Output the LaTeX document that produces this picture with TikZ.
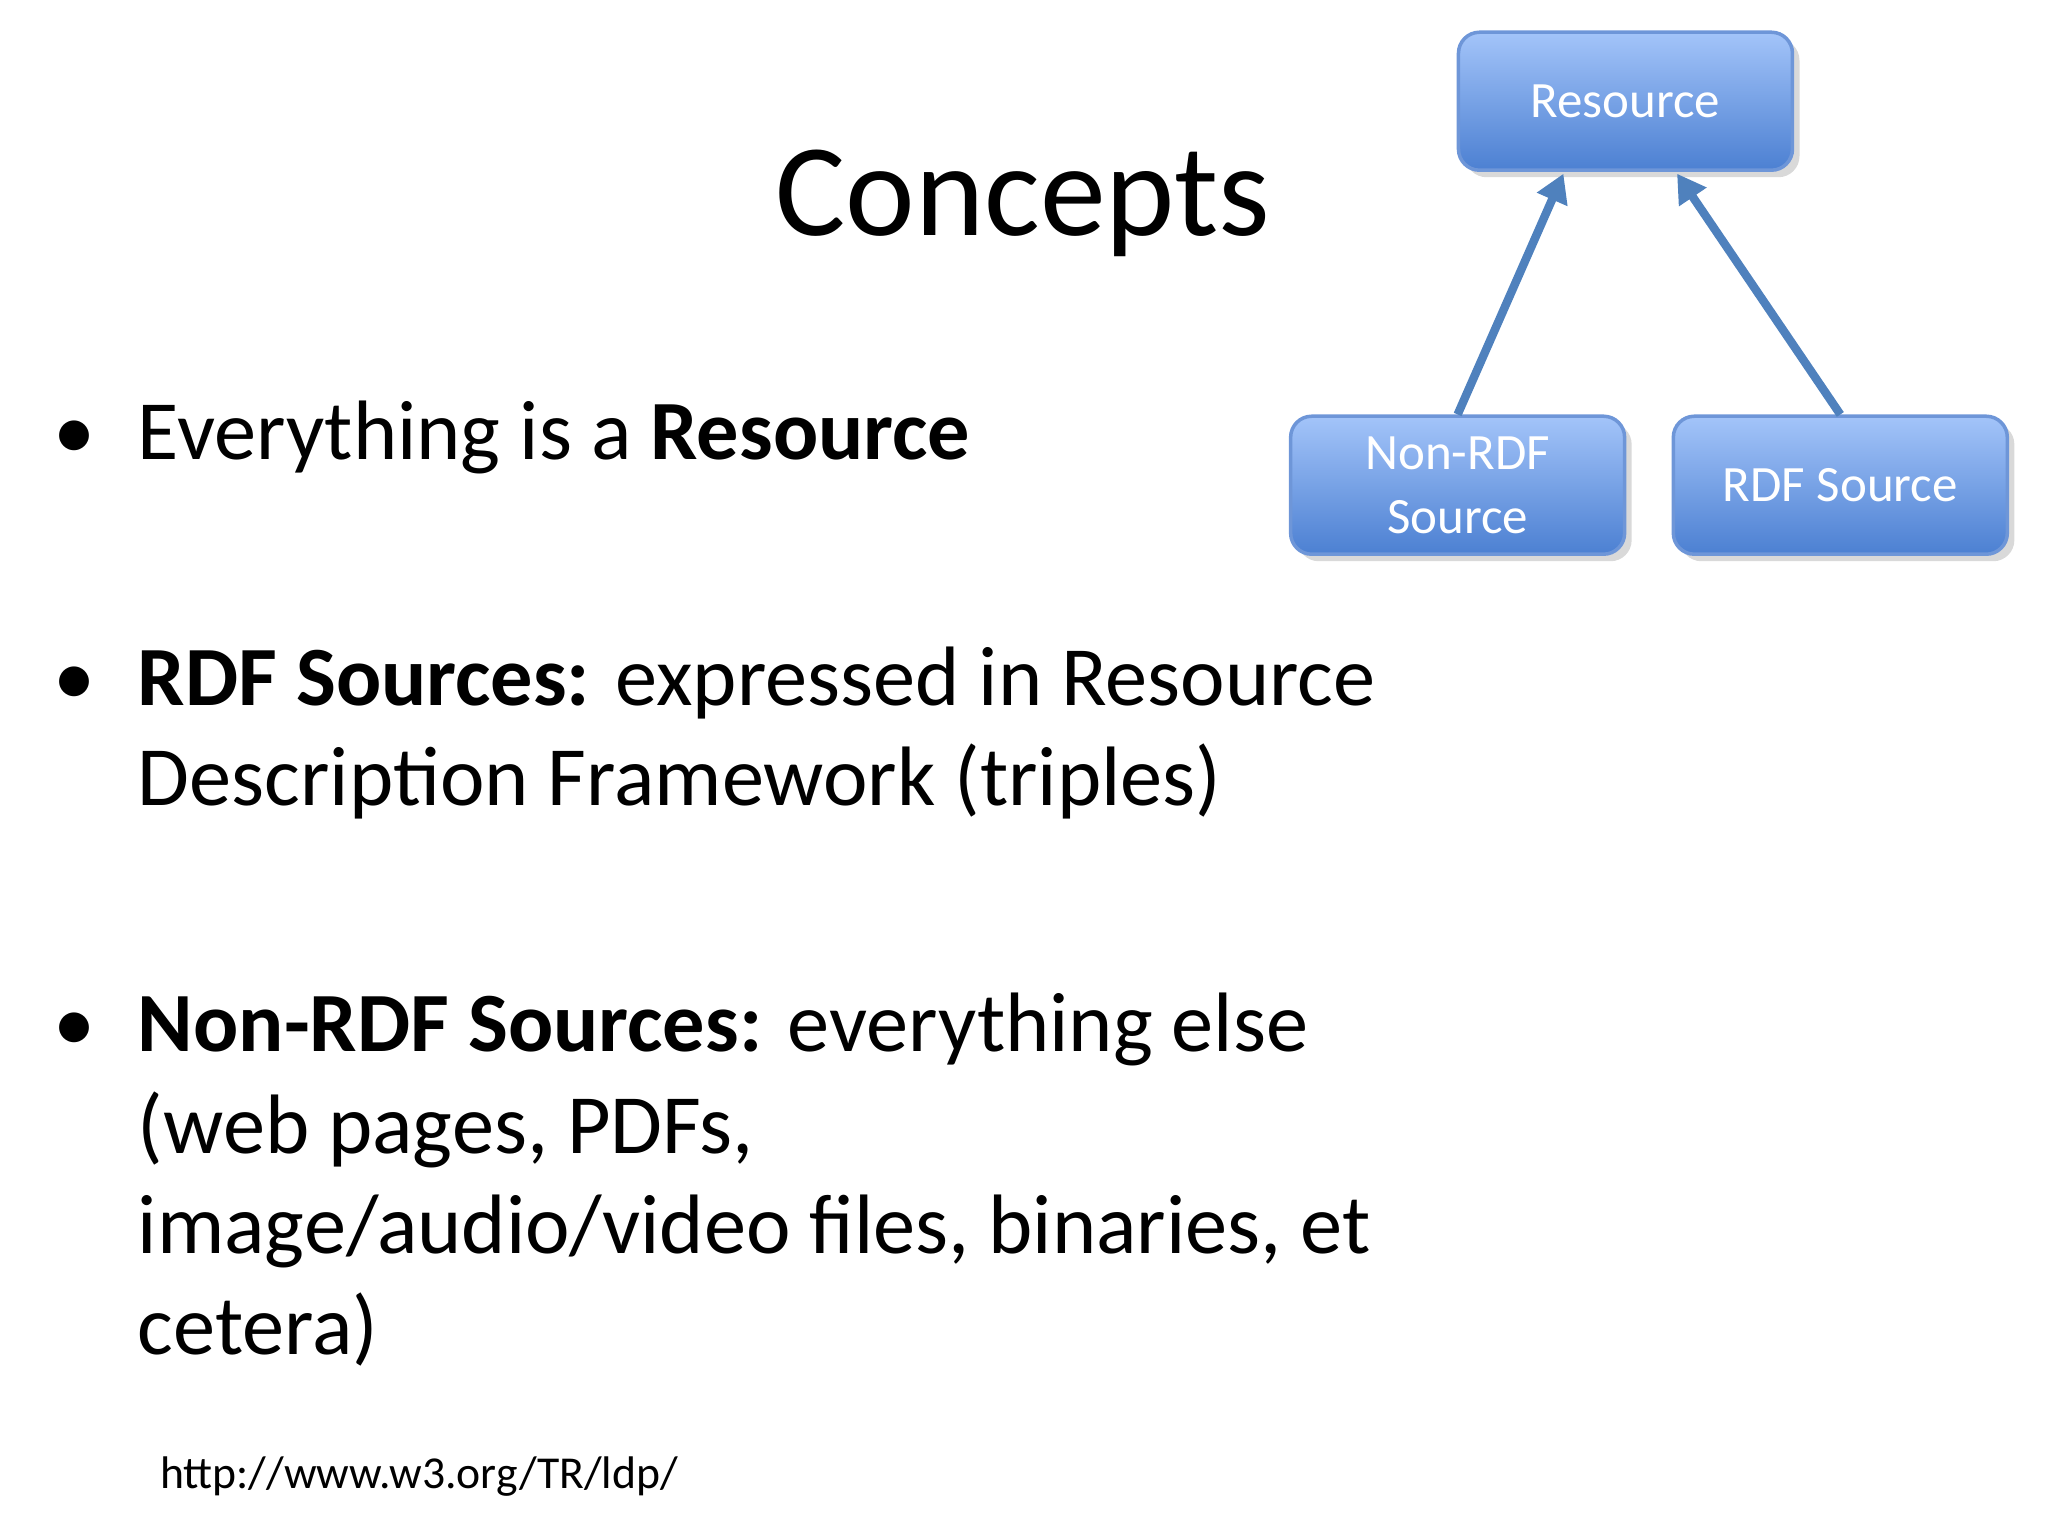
\documentclass[tikz,border=0pt]{standalone}
\usepackage{fontspec}
\setmainfont{Carlito}
\usetikzlibrary{shadows,arrows.meta}
\definecolor{bxtop}{HTML}{A3C4F9}
\definecolor{bxbot}{HTML}{4C80D2}
\definecolor{bxline}{HTML}{6E96D8}
\definecolor{arr}{HTML}{4F81BD}
\tikzset{
  box/.style={draw=bxline, line width=1pt, rounded corners=6pt, top color=bxtop, bottom color=bxbot,
    text=white, font=\fontsize{14.5}{18}\selectfont, align=center, minimum width=3.34cm, minimum height=1.38cm,
    drop shadow={opacity=0.3, shadow xshift=2pt, shadow yshift=-2pt}},
  con/.style={draw=arr, line width=2.4pt, -{Triangle[length=8pt,width=9pt]}},
  body/.style={anchor=base west, inner sep=0pt, font=\fontsize{24}{29}\selectfont},
  bul/.style={anchor=base, inner sep=0pt, font=\fontsize{24}{29}\selectfont}
}
\begin{document}
\begin{tikzpicture}[x=0.01306cm,y=-0.01306cm]
\useasboundingbox (0,0) rectangle (1568,1176);
\node[anchor=base, inner sep=0pt, font=\fontsize{37.5}{45}\selectfont] (title) at (783,180) {Concepts};
\node[box] (res) at (1244.5,77.5) {Resource};
\node[box] (non) at (1116,371.5) {Non-RDF\\Source};
\node[box] (rdf) at (1409,371.5) {RDF Source};
\draw[con] (non.north) -- (1197,133);
\draw[con] (rdf.north) -- (1284,133);
\node[bul] (b1) at (57,352) {•};
\node[body] (t1) at (105,352) {Everything is a \textbf{Resource}};
\node[bul] (b2) at (57,540) {•};
\node[body] (t2a) at (105,540) {\textbf{RDF Sources:} expressed in Resource};
\node[body] (t2b) at (105,617) {Description Framework (triples)};
\node[bul] (b3) at (57,805) {•};
\node[body] (t3a) at (105,805) {\textbf{Non-RDF Sources:} everything else};
\node[body] (t3b) at (105,883) {(web pages, PDFs,};
\node[body] (t3c) at (105,960) {image/audio/video files, binaries, et};
\node[body] (t3d) at (105,1037) {cetera)};
\node[anchor=base west, inner sep=0pt, font=\fontsize{13}{16}\selectfont] (url) at (122,1140) {http://www.w3.org/TR/ldp/};
\end{tikzpicture}
\end{document}
